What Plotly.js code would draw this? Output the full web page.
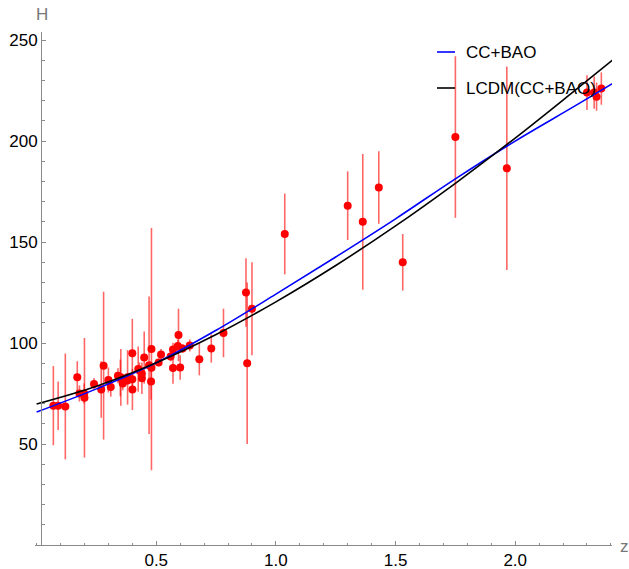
<!DOCTYPE html>
<html>
<head>
<meta charset="utf-8">
<script src="https://cdn.plot.ly/plotly-3.0.1.min.js"></script>
<style>html,body{margin:0;padding:0;background:#fff;}#chart{width:629px;height:569px;}</style>
</head>
<body>
<div id="chart"></div>
<script>
// Observational H(z) data (CC + BAO)
const dataZ = [0.07,0.09,0.12,0.17,0.179,0.199,0.20,0.27,0.28,0.352,0.3802,0.4,0.4004,0.4247,0.4497,0.47,0.4783,0.48,0.593,0.68,0.781,0.875,0.88,0.9,1.037,1.3,1.363,1.43,1.53,1.75,1.965,
  0.24,0.30,0.31,0.34,0.35,0.36,0.38,0.40,0.43,0.44,0.44,0.48,0.51,0.52,0.56,0.57,0.57,0.59,0.60,0.61,0.64,0.73,2.30,2.33,2.34,2.36];
const dataH = [69,69,68.6,83,75,75,72.9,77,88.8,83,83,95,77,87.1,92.8,89,80.9,97,104,92,105,125,90,117,154,168,160,177,140,202,186.5,
  79.69,81.7,78.18,83.8,82.7,79.94,81.5,82.04,86.45,82.6,84.81,87.79,90.4,94.35,93.34,87.6,96.8,98.48,87.9,97.3,98.82,97.3,224,224,222,226];
const dataErr = [19.6,12,26.2,8,4,5,29.6,14,36.6,14,13.5,17,10.2,11.2,12.9,34,9,60,13,8,12,17,40,23,20,17,33.6,18,14,40,50.4,
  2.99,6.22,4.74,3.66,9.1,3.38,1.9,2.03,3.97,7.8,1.83,2.03,1.9,2.64,2.3,7.8,3.4,3.18,6.1,2.1,2.98,7.0,8.6,8,7,8];

// Fitted curves
const curveZ    = [0, 0.25, 0.5, 0.75, 1.0, 1.25, 1.5, 1.75, 2.0, 2.25, 2.41];
const blueH     = [65.8, 77.3, 90.2, 106.3, 124.2, 142.6, 161.5, 181.3, 200.0, 217.4, 228.7];
const lcdmH     = [69.8, 78.6, 90.2, 104.2, 120.4, 138.4, 158.0, 179.1, 201.5, 225.1, 240.4];

const legendNames = ["CC+BAO", "LCDM(CC+BAO)"];
const xTicks = [0.5, 1.0, 1.5, 2.0];
const xTickText = ["0.5", "1.0", "1.5", "2.0"];
const yTicks = [50, 100, 150, 200, 250];
const yTickText = ["50", "100", "150", "200", "250"];

const L = 35, R = 17, T = 32, B = 24, W = 629, Hh = 569;
const pw = W - L - R, ph = Hh - T - B;
const px = v => (v - L) / pw;
const py = v => (Hh - B - v) / ph;

const traces = [
  {
    x: dataZ, y: dataH, type: 'scatter', mode: 'markers', showlegend: false,
    marker: {color: '#ff0000', size: 8},
    error_y: {type: 'data', array: dataErr, visible: true, color: 'rgba(255,0,0,0.6)', thickness: 1.6, width: 0}
  },
  {x: curveZ, y: blueH, type: 'scatter', mode: 'lines', name: legendNames[0], showlegend: false,
   line: {color: '#0000ff', width: 1.6, shape: 'spline'}},
  {x: curveZ, y: lcdmH, type: 'scatter', mode: 'lines', name: legendNames[1], showlegend: false,
   line: {color: '#000000', width: 1.6, shape: 'spline'}}
];

const axisGray = '#8a8a8a';
const font = {family: '"Liberation Sans", Arial, sans-serif', size: 17, color: '#000'};

const layout = {
  width: W, height: Hh,
  margin: {l: L, r: R, t: T, b: B, pad: 0},
  paper_bgcolor: '#fff', plot_bgcolor: '#fff',
  font: font,
  showlegend: false,
  xaxis: {
    range: [(L - 36.6) / 239.3, (W - R - 36.6) / 239.3],
    showgrid: false, zeroline: false,
    showline: true, linecolor: axisGray, linewidth: 1,
    tickmode: 'array', tickvals: xTicks, ticktext: xTickText,
    ticks: 'inside', ticklen: 4, tickcolor: axisGray, tickwidth: 1,
    minor: {tickmode: 'linear', tick0: 0, dtick: 0.1, ticks: 'inside', ticklen: 2.5, tickcolor: axisGray, showgrid: false},
    tickfont: font, anchor: 'y'
  },
  yaxis: {
    range: [0, 254],
    showgrid: false, zeroline: false,
    showline: true, linecolor: axisGray, linewidth: 1,
    tickmode: 'array', tickvals: yTicks, ticktext: yTickText,
    ticks: 'inside', ticklen: 4, tickcolor: axisGray, tickwidth: 1,
    minor: {tickmode: 'linear', tick0: 0, dtick: 10, ticks: 'inside', ticklen: 2.5, tickcolor: axisGray, showgrid: false},
    tickfont: font, anchor: 'free', position: px(41)
  },
  shapes: [
    {type: 'line', xref: 'paper', yref: 'paper', x0: px(437), x1: px(455), y0: py(52), y1: py(52), line: {color: '#0000ff', width: 1.6}},
    {type: 'line', xref: 'paper', yref: 'paper', x0: px(437), x1: px(455), y0: py(88), y1: py(88), line: {color: '#000000', width: 1.6}}
  ],
  annotations: [
    {text: legendNames[0], xref: 'paper', yref: 'paper', x: px(464), y: py(52), xanchor: 'left', yanchor: 'middle', showarrow: false, font: font},
    {text: legendNames[1], xref: 'paper', yref: 'paper', x: px(464), y: py(88), xanchor: 'left', yanchor: 'middle', showarrow: false, font: font},
    {text: 'H', xref: 'paper', yref: 'paper', x: px(41.5), y: py(15), xanchor: 'center', yanchor: 'middle', showarrow: false, font: {family: font.family, size: 17, color: '#777'}},
    {text: 'z', xref: 'paper', yref: 'paper', x: px(624), y: py(546), xanchor: 'center', yanchor: 'middle', showarrow: false, font: {family: font.family, size: 17, color: '#777'}}
  ]
};

Plotly.newPlot('chart', traces, layout, {staticPlot: true, displayModeBar: false});
</script>
</body>
</html>
